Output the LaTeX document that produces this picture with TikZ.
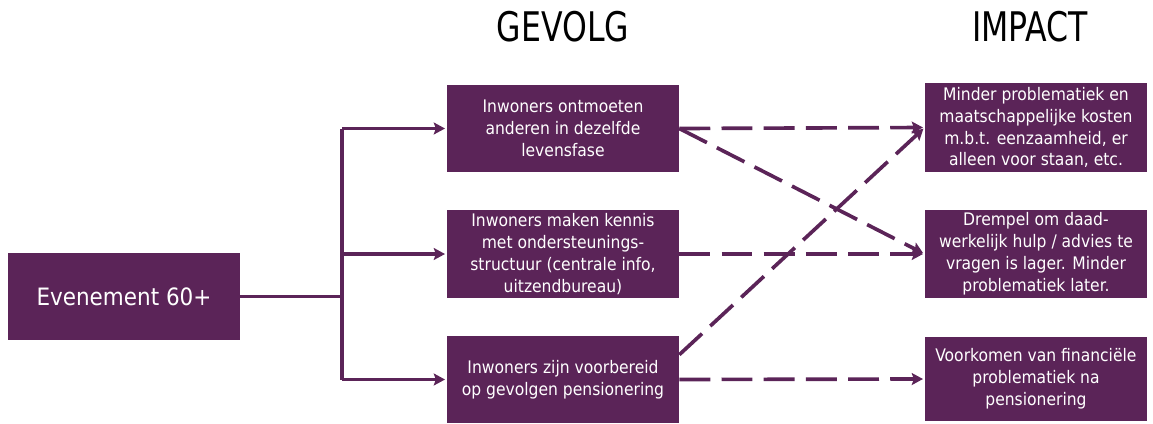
\documentclass[tikz,border=0pt]{standalone}
\usepackage{fontspec}
\setmainfont{DejaVu Sans Condensed}
\newfontfamily\headfont{DejaVu Sans Condensed}
\usetikzlibrary{arrows.meta}
\definecolor{paars}{RGB}{91,36,88}

\begin{document}
\begin{tikzpicture}[%
      x=0.025cm, y=-0.025cm,
      box/.style={fill=paars, text=white, inner sep=0pt, align=center,
        font=\fontsize{12.3}{15.6}\selectfont},
      kop/.style={font=\headfont\fontsize{29}{32}\selectfont},
      lijn/.style={color=paars, line width=2.6pt},
      tak/.style={lijn, -{Stealth[length=8pt,width=8.5pt,inset=1.5pt]}, shorten >=1.2pt},
      streep/.style={tak, dash pattern=on 22pt off 8pt},
      ]
      \useasboundingbox (0,0) rectangle (1153,423);

      % kopjes
      \node[kop] (gevolg) at (563,27) {\scalebox{0.86}[1]{GEVOLG}};
      \node[kop] (impact) at (1030,27) {\scalebox{0.86}[1]{IMPACT}};

      % blokken
      \node[box, minimum width=5.8cm, minimum height=2.18cm,
        font=\fontsize{17}{20}\selectfont] (event) at (124,296.5) {Evenement 60+};

      \node[box, minimum width=5.8cm, minimum height=2.18cm] (g1) at (563,128.5)
        {Inwoners ontmoeten\\anderen in dezelfde\\levensfase};
      \node[box, minimum width=5.8cm, minimum height=2.2cm] (g2) at (563,254)
        {Inwoners maken kennis\\met ondersteunings-\\structuur (centrale info,\\uitzendbureau)};
      \node[box, minimum width=5.8cm, minimum height=2.18cm] (g3) at (563,379.5)
        {Inwoners zijn voorbereid\\op gevolgen pensionering};

      \node[box, minimum width=5.55cm, minimum height=2.22cm] (i1) at (1036,127.5)
        {Minder problematiek en\\maatschappelijke kosten\\m.b.t. eenzaamheid, er\\alleen voor staan, etc.};
      \node[box, minimum width=5.55cm, minimum height=2.2cm] (i2) at (1036,254)
        {Drempel om daad-\\werkelijk hulp / advies te\\vragen is lager. Minder\\problematiek later.};
      \node[box, minimum width=5.55cm, minimum height=2.1cm] (i3) at (1036,379)
        {Voorkomen van financiële\\problematiek na\\pensionering};

      % vertakking
      \coordinate (split) at (342,296.5);
      \draw[lijn] (event.east) -- (split);
      \draw[lijn] (split |- g1) -- (split |- g3);
      \draw[tak] (split |- g1) -- (g1.west);
      \draw[tak] (split |- g2) -- (g2.west);
      \draw[tak] (split |- g3) -- (g3.west);

      % gestreepte pijlen
      \draw[streep] (g1.east) -- (i1.west);
      \draw[streep] (g1.east) -- (i2.west);
      \draw[streep] (g2.east) -- (i2.west);
      \draw[streep] ([yshift=0.62cm]g3.east) -- (i1.west);
      \draw[streep] (g3.east) -- (i3.west);
      \end{tikzpicture}
\end{document}
